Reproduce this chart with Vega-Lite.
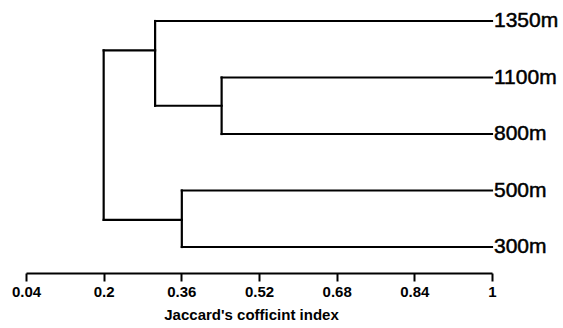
{
  "$schema": "https://vega.github.io/schema/vega-lite/v6.json",
  "autosize": "none",
  "width": 466,
  "height": 273,
  "padding": {"left": 26, "top": 0, "right": 71, "bottom": 55},
  "background": "white",
  "config": {"view": {"stroke": null}},
  "datasets": {
    "segments": [
      {"x": 0.306, "x2": 1, "y": 1, "y2": 1},
      {"x": 0.443, "x2": 1, "y": 2, "y2": 2},
      {"x": 0.443, "x2": 1, "y": 3, "y2": 3},
      {"x": 0.361, "x2": 1, "y": 4, "y2": 4},
      {"x": 0.361, "x2": 1, "y": 5, "y2": 5},
      {"x": 0.443, "x2": 0.443, "y": 2, "y2": 3},
      {"x": 0.306, "x2": 0.443, "y": 2.5, "y2": 2.5},
      {"x": 0.306, "x2": 0.306, "y": 1, "y2": 2.5},
      {"x": 0.2, "x2": 0.306, "y": 1.52, "y2": 1.52},
      {"x": 0.361, "x2": 0.361, "y": 4, "y2": 5},
      {"x": 0.2, "x2": 0.361, "y": 4.52, "y2": 4.52},
      {"x": 0.2, "x2": 0.2, "y": 1.52, "y2": 4.52}
    ],
    "leaves": [
      {"label": "1350m", "x": 1, "y": 1},
      {"label": "1100m", "x": 1, "y": 2},
      {"label": "800m", "x": 1, "y": 3},
      {"label": "500m", "x": 1, "y": 4},
      {"label": "300m", "x": 1, "y": 5}
    ]
  },
  "layer": [
    {
      "data": {"name": "segments"},
      "mark": {"type": "rule", "color": "black", "strokeWidth": 2.2, "strokeCap": "square"},
      "encoding": {
        "x": {
          "field": "x", "type": "quantitative",
          "scale": {"domain": [0.04, 1], "nice": false, "zero": false},
          "axis": {
            "values": [0.04, 0.2, 0.36, 0.52, 0.68, 0.84, 1],
            "labelExpr": "datum.value + ''",
            "labelFlush": false,
            "labelOverlap": false,
            "title": "Jaccard's cofficint index",
            "titleX": 225,
            "grid": false,
            "domainColor": "black",
            "domainWidth": 2,
            "tickColor": "black",
            "tickWidth": 2,
            "tickSize": 8,
            "labelFont": "Liberation Sans",
            "labelFontSize": 15,
            "labelFontWeight": "bold",
            "labelColor": "black",
            "labelPadding": 3,
            "titleFont": "Liberation Sans",
            "titleFontSize": 15,
            "titleFontWeight": "bold",
            "titleColor": "black",
            "titlePadding": 8
          }
        },
        "x2": {"field": "x2"},
        "y": {
          "field": "y", "type": "quantitative",
          "scale": {"domain": [0.628, 5.46], "reverse": true, "nice": false, "zero": false},
          "axis": null
        },
        "y2": {"field": "y2"}
      }
    },
    {
      "data": {"name": "leaves"},
      "mark": {"type": "text", "align": "left", "baseline": "middle", "dx": 2, "font": "Liberation Sans", "fontSize": 21, "color": "black", "stroke": "black", "strokeWidth": 0.5},
      "encoding": {
        "x": {"field": "x", "type": "quantitative"},
        "y": {"field": "y", "type": "quantitative"},
        "text": {"field": "label"}
      }
    }
  ]
}
